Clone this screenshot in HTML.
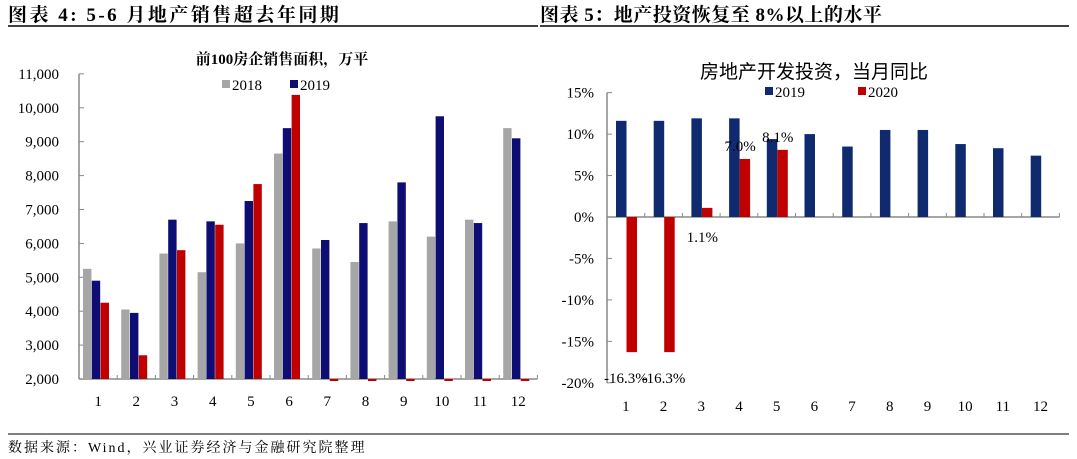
<!DOCTYPE html>
<html><head><meta charset="utf-8"><style>
body{margin:0;background:#fff;width:1077px;height:459px;overflow:hidden;font-family:"Liberation Serif","Noto Serif CJK SC",serif}
svg{position:absolute;left:0;top:0}
</style></head><body>
<svg width="1077" height="459">
<text x="8" y="21" font-size="19" font-weight="bold" letter-spacing="2.5" font-family="'Liberation Serif','Noto Serif CJK SC',serif">图表 4:  5-6 月地产销售超去年同期</text>
<line x1="8" y1="26" x2="538" y2="26" stroke="#000" stroke-width="1.5"/>
<text x="540" y="21" font-size="19" font-weight="bold" letter-spacing="0.5" font-family="'Liberation Serif','Noto Serif CJK SC',serif">图表 5：地产投资恢复至 8%以上的水平</text>
<line x1="540" y1="26" x2="1069" y2="26" stroke="#000" stroke-width="1.5"/>
<text x="282" y="64" font-size="15" font-weight="bold" text-anchor="middle" font-family="'Liberation Serif','Noto Serif CJK SC',serif">前100房企销售面积，万平</text>
<text x="814" y="78" font-size="19" text-anchor="middle" font-family="'Liberation Sans','Noto Sans CJK SC',sans-serif">房地产开发投资，当月同比</text>
<g id="L"></g><g id="R"></g>
<line x1="8" y1="434" x2="1069" y2="434" stroke="#000" stroke-width="1"/>
<text x="8" y="452" font-size="14" letter-spacing="2" font-family="'Liberation Serif','Noto Serif CJK SC',serif">数据来源：Wind，兴业证券经济与金融研究院整理</text>
</svg>
<script>
const months=["1","2","3","4","5","6","7","8","9","10","11","12"];
const sales2018=[5250,4050,5700,5150,6000,8650,5850,5450,6650,6200,6700,9400];
const sales2019=[4900,3950,6700,6650,7250,9400,6100,6600,7800,9750,6600,9100];
const sales2020=[4250,2700,5800,6550,7750,10380,1950,1950,1950,1950,1950,1950];
const leftTicks=[2000,3000,4000,5000,6000,7000,8000,9000,10000,11000];
const inv2019=[11.6,11.6,11.9,11.9,9.4,10.0,8.5,10.5,10.5,8.8,8.3,7.4];
const inv2020=[-16.3,-16.3,1.1,7.0,8.1];
const rightTicks=[-20,-15,-10,-5,0,5,10,15];
const NS="http://www.w3.org/2000/svg";
function mk(p,t,a,txt){const e=document.createElementNS(NS,t);for(const k in a)e.setAttribute(k,a[k]);if(txt!=null)e.textContent=txt;p.appendChild(e);return e;}
// left chart
const L=document.getElementById('L');
const lx0=79,lbw=38.2,ly=v=>379-(v-2000)*0.0339;
let ax=mk(L,'line',{x1:lx0,y1:ly(11000),x2:lx0,y2:ly(2000),stroke:'#888','stroke-width':1.5});

leftTicks.forEach(t=>{const y=ly(t);mk(L,'line',{x1:lx0,y1:y,x2:lx0+5,y2:y,stroke:'#888'});
const e=mk(L,'text',{x:59,y:y+5,'font-size':15,'text-anchor':'end'},t.toLocaleString('en-US'));
});
const lax=mk(L,'line',{x1:lx0,y1:ly(2000),x2:lx0+lbw*12,y2:ly(2000),stroke:'#888','stroke-width':1.5});

months.forEach((m,i)=>{const bx=lx0+i*lbw;
mk(L,'line',{x1:bx+lbw,y1:ly(2000),x2:bx+lbw,y2:ly(2000)-4,stroke:'#888'});
[[sales2018,'#a6a6a6','bar-2018'],[sales2019,'#0d0d73','bar-2019'],[sales2020,'#c00000','bar-2020']].forEach((s,j)=>{
const v=s[0][i];const y1=ly(v),y0=ly(2000);
const r=mk(L,'rect',{x:bx+4+j*8.8,y:Math.min(y0,y1),width:8.4,height:Math.max(Math.abs(y0-y1),2),fill:s[1]});
});
const t=mk(L,'text',{x:bx+lbw/2,y:406,'font-size':15,'text-anchor':'middle'},m);
});
[['#a6a6a6','2018',222],['#0d0d73','2019',290]].forEach(l=>{
const g=mk(L,'g',{});
mk(g,'rect',{x:l[2],y:80,width:8,height:8,fill:l[0]});mk(g,'text',{x:l[2]+10,y:90,'font-size':15},l[1]);});
// right chart
const R=document.getElementById('R');
const rx0=607,rbw=37.7,ry=v=>217-v*8.29;
const ra=mk(R,'line',{x1:rx0,y1:ry(15),x2:rx0,y2:ry(-20),stroke:'#888','stroke-width':1.5});

rightTicks.forEach(t=>{const y=ry(t);mk(R,'line',{x1:rx0,y1:y,x2:rx0+5,y2:y,stroke:'#888'});
const e=mk(R,'text',{x:594,y:y+5,'font-size':15,'text-anchor':'end'},t+'%');
});
const rxa=mk(R,'line',{x1:rx0,y1:ry(0),x2:rx0+rbw*12,y2:ry(0),stroke:'#888','stroke-width':1.5});

months.forEach((m,i)=>{const bx=rx0+i*rbw;
mk(R,'line',{x1:bx+rbw,y1:ry(0),x2:bx+rbw,y2:ry(0)-4,stroke:'#888'});
const v=inv2019[i];const b=mk(R,'rect',{x:bx+9,y:Math.min(ry(v),ry(0)),width:10.5,height:Math.abs(ry(v)-ry(0)),fill:'#0f2a6e'});

if(i<inv2020.length){const w=inv2020[i];const r=mk(R,'rect',{x:bx+19.5,y:Math.min(ry(w),ry(0)),width:10.5,height:Math.abs(ry(w)-ry(0)),fill:'#c00000'});

let ly2=w<0?ry(w)+31:(w<3?ry(0)+25:ry(w)-8);let lx=w<0?bx+rbw/2:bx+20;
const lt=mk(R,'text',{x:lx,y:ly2,'font-size':15,'text-anchor':'middle'},w.toFixed(1)+'%');
}
const t=mk(R,'text',{x:bx+rbw/2,y:411,'font-size':15,'text-anchor':'middle'},m);
});
[['#0f2a6e','2019',765],['#c00000','2020',858]].forEach(l=>{
const g=mk(R,'g',{});
mk(g,'rect',{x:l[2],y:87,width:8,height:8,fill:l[0]});mk(g,'text',{x:l[2]+10,y:97,'font-size':15},l[1]);});
</script>
</body></html>
